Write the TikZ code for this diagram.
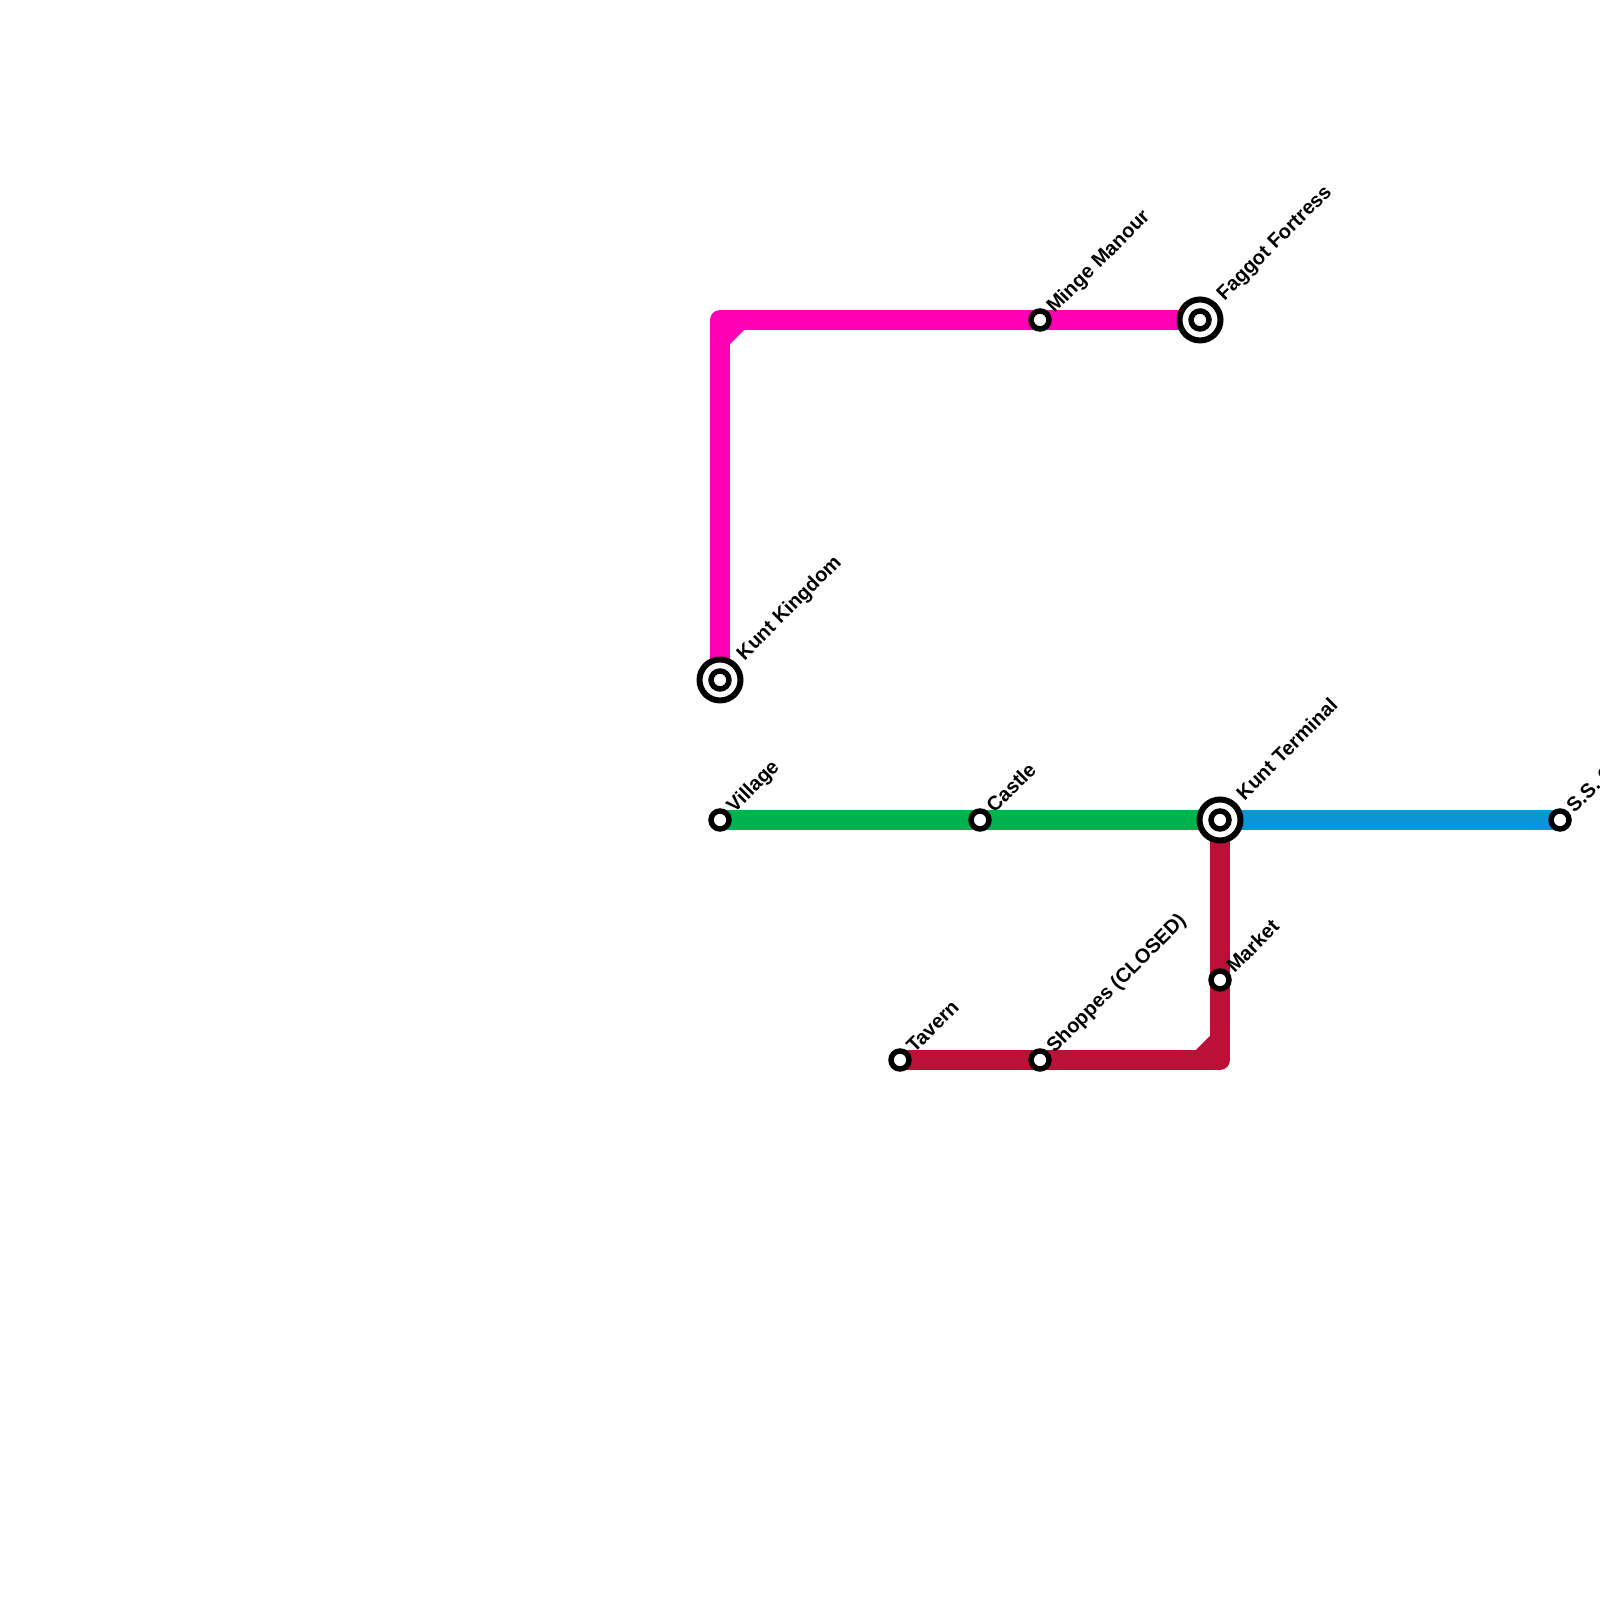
\documentclass[tikz,border=0pt]{standalone}
\usepackage{fontspec}
\setmainfont{Liberation Sans}
\usepackage{tikz}
\usetikzlibrary{positioning,backgrounds}
\definecolor{LineMagenta}{RGB}{255,0,180}
\definecolor{LineGreen}{RGB}{0,179,79}
\definecolor{LineBlue}{RGB}{8,150,215}
\definecolor{LineCrimson}{RGB}{189,16,56}

\begin{document}
\begin{tikzpicture}[
  on grid,
  every node/.style={font=\fontsize{5.7}{7}\selectfont\bfseries},
  stopdot/.style={circle, draw=black, fill=white, line width=1.55pt, inner sep=0pt, minimum size=0.18cm},
  hubring/.style={circle, draw=black, fill=white, line width=1.7pt, inner sep=0pt, minimum size=0.41cm},
  cornerpt/.style={inner sep=0pt, minimum size=0pt},
  stoplabel/.style={rotate=45, anchor=base west, inner sep=0pt, xshift=0.14cm, yshift=-0.06cm},
  hublabel/.style={stoplabel, xshift=0.16cm, yshift=0.02cm},
  metro/.style={line width=0.2cm, line join=round}
]
\useasboundingbox (0,0) rectangle (16,16);

\node[hubring] (kingdom) at (7.2,9.2) {};
\node[stopdot] (kingdomin) at (kingdom.center) {};
\node[cornerpt, above=3.6cm of kingdom] (topcorner) {};
\node[stopdot, right=3.2cm of topcorner] (manour) {};
\node[hubring, right=1.6cm of manour] (fortress) {};
\node[stopdot] (fortressin) at (fortress.center) {};

\node[stopdot, below=1.4cm of kingdom] (village) {};
\node[stopdot, right=2.6cm of village] (castle) {};
\node[hubring, right=2.4cm of castle] (terminal) {};
\node[stopdot] (terminalin) at (terminal.center) {};
\node[stopdot, right=3.4cm of terminal] (steamship) {};
\node[stopdot, below=1.6cm of terminal] (market) {};
\node[cornerpt, below=0.8cm of market] (lowcorner) {};
\node[stopdot, left=1.8cm of lowcorner] (shoppes) {};
\node[stopdot, left=1.4cm of shoppes] (tavern) {};

\node[hublabel] (lblkingdom) at (kingdom) {Kunt Kingdom};
\node[stoplabel] (lblmanour) at (manour) {Minge Manour};
\node[hublabel] (lblfortress) at (fortress) {Faggot Fortress};
\node[stoplabel] (lblvillage) at (village) {Village};
\node[stoplabel] (lblcastle) at (castle) {Castle};
\node[hublabel] (lblterminal) at (terminal) {Kunt Terminal};
\node[stoplabel] (lblsteamship) at (steamship) {S.S. C};
\node[stoplabel] (lblmarket) at (market) {Market};
\node[stoplabel] (lblshoppes) at (shoppes) {Shoppes (CLOSED)};
\node[stoplabel] (lbltavern) at (tavern) {Tavern};

\begin{scope}[on background layer]
\draw[metro, LineMagenta] (kingdom.center) -- (topcorner.center) -- (fortress.center);
\draw[metro, LineMagenta] ([yshift=-0.2cm]topcorner.center) -- ([xshift=0.2cm]topcorner.center);
\draw[metro, LineGreen] (village.center) -- (terminal.center);
\draw[metro, LineBlue] (terminal.center) -- (steamship.center);
\draw[metro, LineCrimson] (terminal.center) -- (lowcorner.center) -- (tavern.center);
\draw[metro, LineCrimson] ([yshift=0.2cm]lowcorner.center) -- ([xshift=-0.2cm]lowcorner.center);
\end{scope}
\end{tikzpicture}
\end{document}
